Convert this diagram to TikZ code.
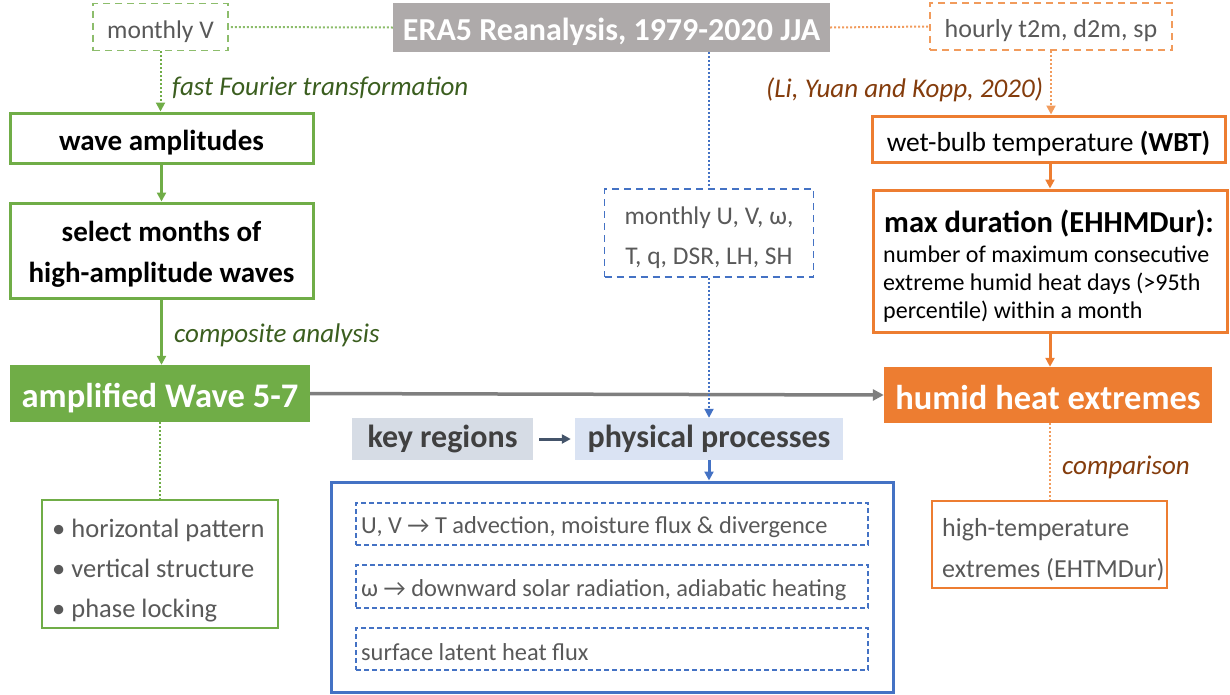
\documentclass[tikz,border=0pt]{standalone}
\usepackage{fontspec}
\setmainfont{Carlito}
\usetikzlibrary{arrows.meta}
\definecolor{cgreen}{HTML}{70AD47}
\definecolor{dgreen}{HTML}{3B5E1F}
\definecolor{corange}{HTML}{ED7D31}
\definecolor{lorange}{HTML}{F19B5C}
\definecolor{brown}{HTML}{843C0C}
\definecolor{cblue}{HTML}{4472C4}
\definecolor{era}{HTML}{AEAAAA}
\definecolor{tgray}{HTML}{595959}
\definecolor{kfill}{HTML}{D6DCE5}
\definecolor{pfill}{HTML}{DAE3F3}
\definecolor{ktext}{HTML}{404040}
\definecolor{agray}{HTML}{7F7F7F}
\definecolor{navy}{HTML}{44546A}
\newcommand\fsz[2]{\fontsize{#1}{#2}\selectfont}
\newcommand\dn[2][4.5pt]{\raisebox{-#1}[\height][\depth]{#2}}
\begin{document}
\begin{tikzpicture}[x=1pt,y=-1pt,
  bx/.style={inner sep=0pt, align=center},
  dashbox/.style={bx, draw, line width=1.8pt, dash pattern=on 7pt off 5pt},
  thickbox/.style={bx, draw, line width=3pt},
  dots/.style={line width=2pt, dash pattern=on 2pt off 2pt},
  tip/.style={-{Triangle[length=9pt,width=9pt]}},
  lab/.style={inner sep=0pt, anchor=west, font=\fsz{27}{30}\itshape}]
\useasboundingbox (0,0) rectangle (1230,694);

% top row
\node[dashbox, draw=cgreen!80, minimum width=135, minimum height=47, text=tgray, font=\fsz{25.5}{30}] (mv) at (160.5,27) {\dn{monthly V}};
\node[bx, fill=era, minimum width=437, minimum height=49, text=white, font=\fsz{32}{36}\bfseries] (era) at (611.5,27.5) {\dn[4pt]{ERA5 Reanalysis, 1979-2020 JJA}};
\node[dashbox, draw=lorange, minimum width=242, minimum height=47, text=tgray, font=\fsz{26}{30}] (hr) at (1051,26.5) {\dn{hourly t2m, d2m, sp}};

% left column
\node[thickbox, draw=cgreen, minimum width=303, minimum height=50, font=\fsz{29}{34}\bfseries] (wa) at (161.5,138) {\dn{wave amplitudes}};
\node[thickbox, draw=cgreen, minimum width=303, minimum height=95, font=\fsz{29}{41}\bfseries] (sm) at (161.5,250.5) {\dn[4pt]{select months of}\\\dn[4pt]{high-amplitude waves}};
\node[bx, fill=cgreen, minimum width=300, minimum height=57, text=white, font=\fsz{34.5}{40}\bfseries] (aw) at (160,393.5) {\dn[5pt]{amplified Wave 5-7}};
\node[bx, draw=cgreen, line width=1.5pt, minimum width=236, minimum height=128] (bl) at (160,564) {};
\node[inner sep=0pt, anchor=west, align=left, text=tgray, font=\fsz{26.5}{40}] (blt) at (52,570.5) {\textbullet\ horizontal pattern\\\textbullet\ vertical structure\\\textbullet\ phase locking};

% middle column
\node[dashbox, draw=cblue, minimum width=209, minimum height=88, text=tgray, font=\fsz{25.5}{40}] (mu) at (709,233) {\dn{monthly U, V, ω,}\\\dn{T, q, DSR, LH, SH}};
\node[bx, fill=kfill, minimum width=181, minimum height=42, text=ktext, font=\fsz{32}{36}\bfseries] (kr) at (442.5,439) {key regions};
\node[bx, fill=pfill, minimum width=268, minimum height=42, text=ktext, font=\fsz{32}{36}\bfseries] (pp) at (709,439) {physical processes};
\node[bx, draw=cblue, line width=3pt, minimum width=562, minimum height=210] (big) at (612,587) {};
\node[bx, draw=cblue, line width=1.2pt, dash pattern=on 5pt off 3pt, minimum width=512, minimum height=42] (i1) at (612,524) {};
\node[bx, draw=cblue, line width=1.2pt, dash pattern=on 5pt off 3pt, minimum width=512, minimum height=43] (i2) at (612,586.5) {};
\node[bx, draw=cblue, line width=1.2pt, dash pattern=on 5pt off 3pt, minimum width=512, minimum height=42] (i3) at (612,649) {};
\node[inner sep=0pt, anchor=west, text=tgray, font=\fsz{24.4}{28}] (t1) at (361,527.5) {U, V → T advection, moisture flux \& divergence};
\node[inner sep=0pt, anchor=west, text=tgray, font=\fsz{24.4}{28}] (t2) at (361,590) {ω → downward solar radiation, adiabatic heating};
\node[inner sep=0pt, anchor=west, text=tgray, font=\fsz{24.4}{28}] (t3) at (361,652.5) {surface latent heat flux};

% right column
\node[thickbox, draw=corange, minimum width=353, minimum height=46, font=\fsz{27.5}{32}] (wbt) at (1048.5,139) {\dn{wet-bulb temperature \textbf{(WBT)}}};
\node[thickbox, draw=corange, minimum width=354, minimum height=142] (md) at (1050,261) {};
\node[inner sep=0pt, font=\fsz{30.5}{34}\bfseries] (mdt) at (1049,223) {max duration (EHHMDur):};
\node[inner sep=0pt, anchor=north west, align=left, font=\fsz{24}{28}] (mdb) at (883,246) {number of maximum consecutive\\extreme humid heat days (>95th\\percentile) within a month};
\node[bx, fill=corange, minimum width=328, minimum height=56, text=white, font=\fsz{34.5}{40}\bfseries] (he) at (1048,395) {\dn[2.5pt]{humid heat extremes}};
\node[bx, draw=corange, line width=1.5pt, minimum width=235, minimum height=87] (ht) at (1049.5,544.5) {};
\node[inner sep=0pt, anchor=west, align=left, text=tgray, font=\fsz{26}{41}] (htt) at (942,550) {high-temperature\\extremes (EHTMDur)};

% labels
\node[lab, text=dgreen] (l1) at (172,88) {fast Fourier transformation};
\node[lab, text=dgreen] (l2) at (174,335) {composite analysis};
\node[lab, text=brown] (l3) at (766,90) {(Li, Yuan and Kopp, 2020)};
\node[lab, text=brown] (l4) at (1062,467) {comparison};

% connectors
\draw[dots, draw=cgreen!80] (era.west) -- (mv.east);
\draw[dots, draw=lorange] (era.east) -- (hr.west);
\draw[dots, draw=cblue] (era.south -| mu.north) -- (mu.north);
\draw[dots, draw=cgreen, tip] (mv.south) -- (mv.south |- wa.north);
\draw[cgreen, line width=3pt, tip] (wa.south) -- (sm.north);
\draw[cgreen, line width=3pt, tip] (sm.south) -- (sm.south |- aw.north);
\draw[dots, draw=cgreen] (aw.south) -- (aw.south |- bl.north);
\draw[agray, line width=3.5pt, -{Triangle[length=11pt,width=11pt]}] (aw.east) -- (he.west);
\draw[dots, draw=cblue, tip] (mu.south) -- (mu.south |- pp.north);
\draw[navy, line width=3pt, tip] (kr.east) ++(6,0) -- ([xshift=-4pt]pp.west);
\draw[cblue, line width=3pt, tip] (pp.south) -- (pp.south |- big.north);
\draw[dots, draw=lorange, tip] (hr.south) -- (hr.south |- wbt.north);
\draw[corange, line width=3pt, tip] (wbt.south -| md.north) -- (md.north);
\draw[corange, line width=3pt, tip] (md.south) -- (md.south |- he.north);
\draw[dots, draw=lorange] (md.south |- he.south) -- (md.south |- ht.north);
\end{tikzpicture}
\end{document}
